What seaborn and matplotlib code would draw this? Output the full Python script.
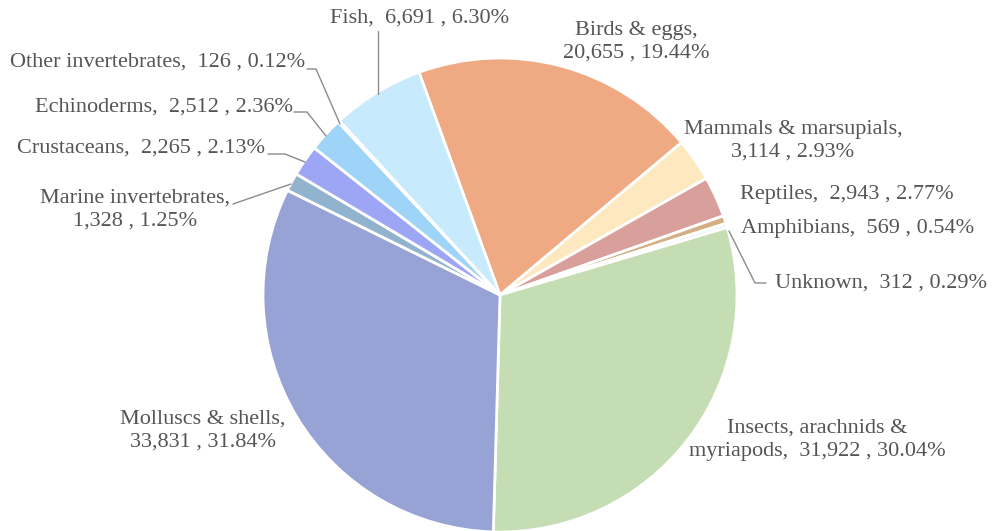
import matplotlib
matplotlib.use("Agg")
import matplotlib.pyplot as plt
import seaborn as sns

# Specimen counts by group, in the order the wedges run clockwise
categories = [
    "Birds & eggs", "Mammals & marsupials", "Reptiles", "Amphibians", "Unknown",
    "Insects, arachnids & myriapods", "Molluscs & shells", "Marine invertebrates",
    "Crustaceans", "Echinoderms", "Other invertebrates", "Fish",
]
counts = [20655, 3114, 2943, 569, 312, 31922, 33831, 1328, 2265, 2512, 126, 6691]
label_texts = [
    "Birds & eggs,\n20,655 , 19.44%",
    "Mammals & marsupials,\n3,114 , 2.93%",
    "Reptiles,  2,943 , 2.77%",
    "Amphibians,  569 , 0.54%",
    "Unknown,  312 , 0.29%",
    "Insects, arachnids &\nmyriapods,  31,922 , 30.04%",
    "Molluscs & shells,\n33,831 , 31.84%",
    "Marine invertebrates,\n1,328 , 1.25%",
    "Crustaceans,  2,265 , 2.13%",
    "Echinoderms,  2,512 , 2.36%",
    "Other invertebrates,  126 , 0.12%",
    "Fish,  6,691 , 6.30%",
]
colors = [
    "#EFA983", "#FDE8BF", "#D9A09B", "#D4AE85", "#EEF2F7", "#C5DDB3",
    "#97A2D5", "#92B3CE", "#9DA5F5", "#9ED4F7", "#C4E6F8", "#C7EBFC",
]

sns.set_style("white")
plt.rcParams["font.family"] = ["Liberation Serif", "DejaVu Serif"]
palette = sns.color_palette(colors)

W, H = 993, 531
fig = plt.figure(figsize=(W / 100, H / 100), dpi=100)
ax = fig.add_axes([0, 0, 1, 1])

cx, cy, r = 500, 295, 237
wedges, _ = ax.pie(
    counts, colors=palette, startangle=-110, counterclock=True,
    center=(cx, cy), radius=r, frame=True,
    wedgeprops=dict(edgecolor="white", linewidth=2),
)
ax.set_xlim(0, W)
ax.set_ylim(H, 0)
ax.set_aspect("equal")
ax.axis("off")

txt = dict(color="#555555", fontsize=16)

# label anchor (x, y, ha) for each wedge
positions = [
    (636, 42, "center"),
    (793, 141, "center"),
    (740, 195, "left"),
    (741, 228, "left"),
    (775, 283, "left"),
    (817, 440, "center"),
    (203, 431, "center"),
    (135, 210, "center"),
    (17, 148, "left"),
    (35, 107, "left"),
    (10, 62, "left"),
    (330, 18, "left"),
]
for s, (x, y, ha) in zip(label_texts, positions):
    ax.text(x, y, s, ha=ha, va="center", linespacing=1.28, **txt)

# leader lines from labels to their wedges
leaders = [
    [(378, 31), (378, 94)],
    [(307, 69), (316, 69), (340, 124)],
    [(294, 112), (307, 112), (326, 136)],
    [(268, 154), (285, 154), (305, 162)],
    [(233, 204), (291, 184)],
    [(766, 283), (755, 283), (729, 231)],
]
for pts in leaders:
    xs, ys = zip(*pts)
    ax.plot(xs, ys, color="#8C8C8C", linewidth=1)

fig.savefig("out.png", dpi=100)
